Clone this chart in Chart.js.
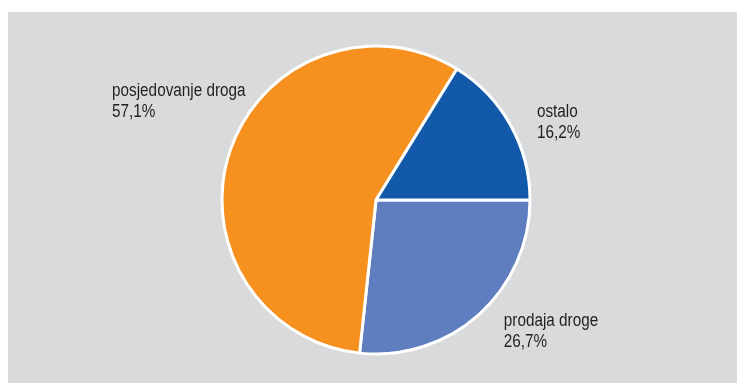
<!DOCTYPE html>
<html>
<head>
<meta charset="utf-8">
<script src="https://cdn.jsdelivr.net/npm/chart.js@4"></script>
<style>
  html, body { margin: 0; padding: 0; background: #fff; overflow: hidden; }
  #wrap { width: 737px; height: 383px; position: relative; }
  #piechart { display: block; }
</style>
</head>
<body>
<div id="wrap"><canvas id="piechart" width="737" height="383"></canvas></div>
<script>
// data
let categories = ['prodaja droge', 'posjedovanje droga', 'ostalo'];
let shares = [26.7, 57.1, 16.2];
let shareLabels = ['26,7%', '57,1%', '16,2%'];
let colors = ['#5e7ec0', '#f6901e', '#1259aa'];

// label anchors, in units of the pie radius from the centre (first baseline)
let labelSpots = [
  [0.83, 0.82],
  [-1.714, -0.675],
  [1.045, -0.54],
];

let background = {
  id: 'background',
  beforeDraw(chart) {
    let c = chart.ctx;
    c.save();
    c.fillStyle = '#d9dadb';
    c.fillRect(8, 12, 729, 371);
    c.restore();
  },
};

let sliceLabels = {
  id: 'sliceLabels',
  afterDraw(chart) {
    let c = chart.ctx;
    let arcs = chart.getDatasetMeta(0).data;
    c.save();
    c.fillStyle = '#231f20';
    c.font = '18px "Liberation Sans", Arial, sans-serif';
    c.textBaseline = 'alphabetic';
    c.textAlign = 'left';
    arcs.forEach((arc, i) => {
      let r = arc.outerRadius;
      let x = arc.x + labelSpots[i][0] * r;
      let y = arc.y + labelSpots[i][1] * r;
      c.save();
      c.translate(x, y);
      c.scale(0.85, 1);
      c.fillText(categories[i], 0, 0);
      c.fillText(shareLabels[i], 0, 21);
      c.restore();
    });
    c.restore();
  },
};

let ctx = document.getElementById('piechart');
var piechart = new Chart(ctx, {
  type: 'pie',
  data: {
    labels: categories,
    datasets: [
      {
        data: shares,
        backgroundColor: colors,
        borderColor: '#ffffff',
        borderWidth: 3,
        hoverOffset: 0,
      },
    ],
  },
  options: {
    responsive: false,
    animation: false,
    rotation: 90,
    radius: 154,
    layout: {
      padding: { left: 15, top: 17, right: 0, bottom: 0 },
    },
    plugins: {
      legend: { display: false },
      tooltip: { enabled: false },
    },
  },
  plugins: [background, sliceLabels],
});
</script>
</body>
</html>
